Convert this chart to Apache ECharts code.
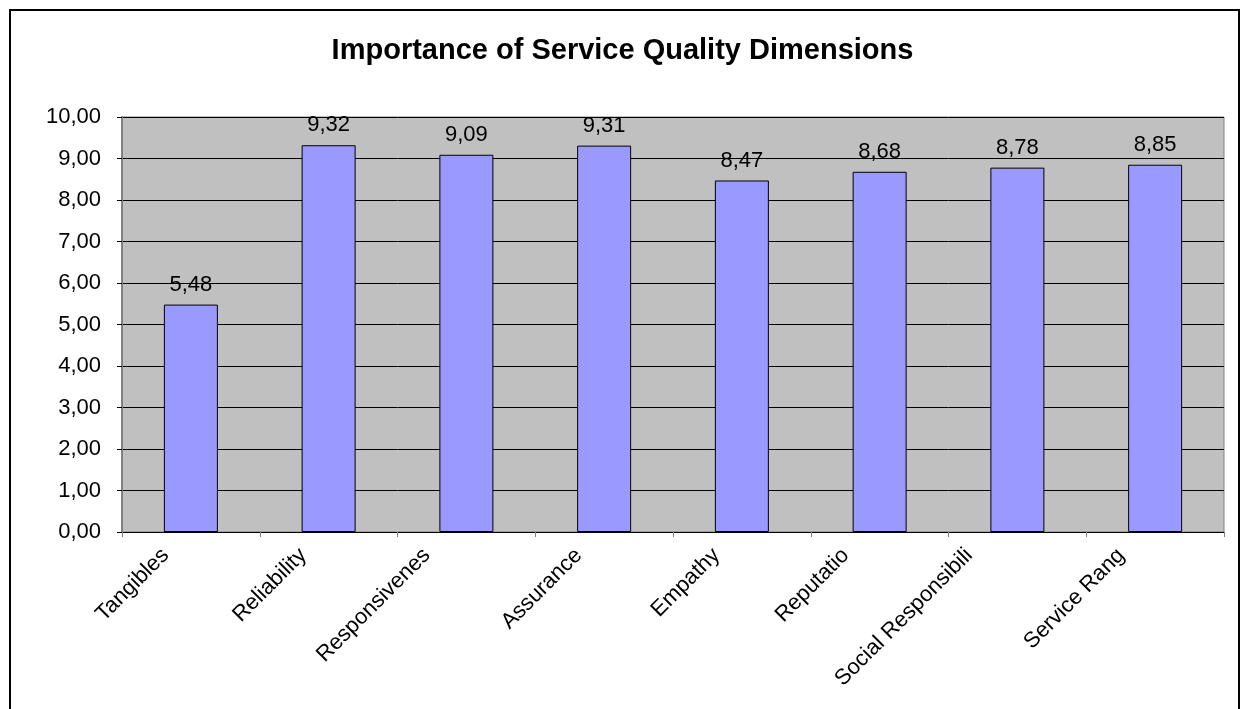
<!DOCTYPE html>
<html>
<head>
<meta charset="utf-8">
<title>Importance of Service Quality Dimensions</title>
<script src="https://cdn.jsdelivr.net/npm/echarts@6/dist/echarts.min.js"></script>
<style>
  html, body { margin: 0; padding: 0; background: #ffffff; }
  #chart { width: 1245px; height: 709px; }
</style>
</head>
<body>
<div id="chart"></div>
<script>
// Category names as printed under the axis (long names are cut off)
const categories = ['Tangibles', 'Reliability', 'Responsivenes', 'Assurance', 'Empathy', 'Reputatio', 'Social Responsibili', 'Service Rang'];
// Mean importance score per dimension
const importance = [5.48, 9.32, 9.09, 9.31, 8.47, 8.68, 8.78, 8.85];
// Value axis range
const yMin = 0;
const yMax = 10;
const yStep = 1;

const FONT = '"Liberation Sans", Arial, sans-serif';
const comma = v => Number(v).toFixed(2).replace('.', ',');

// Sideways slide (px) of each rotated category label; padding acts along the text's own axes
const baseShift = 26;
const extraShift = { 'Responsivenes': 14, 'Reputatio': 8, 'Social Responsibili': 22, 'Service Rang': 8 };
const rich = {};
categories.forEach((c, i) => {
  const s = Math.round((baseShift + (extraShift[c] || 0)) * 0.707);
  rich['c' + i] = {
    fontFamily: FONT,
    fontSize: 22,
    color: '#000000',
    padding: [0, s, 2 * s, 0]
  };
});

const chart = echarts.init(document.getElementById('chart'), null, { renderer: 'canvas' });

chart.setOption({
  backgroundColor: '#ffffff',
  animation: false,
  title: {
    text: 'Importance of Service Quality Dimensions',
    left: 'center',
    top: 31,
    textStyle: { fontFamily: FONT, fontSize: 29, fontWeight: 'bold', color: '#000000' }
  },
  graphic: [{
    type: 'rect',
    z: 100,
    silent: true,
    shape: { x: 10, y: 10, width: 1229, height: 730 },
    style: { fill: null, stroke: '#000000', lineWidth: 2 }
  }],
  grid: {
    left: 122,
    right: 21,
    top: 117,
    bottom: 177,
    show: true,
    backgroundColor: '#C0C0C0',
    borderColor: '#808080',
    borderWidth: 1
  },
  xAxis: {
    type: 'category',
    data: categories,
    boundaryGap: true,
    axisLine: { show: true, lineStyle: { color: '#000000', width: 1 } },
    axisTick: { show: true, alignWithLabel: false, length: 5, lineStyle: { color: '#808080', width: 1 } },
    axisLabel: {
      interval: 0,
      rotate: 45,
      margin: 20,
      fontFamily: FONT,
      fontSize: 22,
      color: '#000000',
      formatter: (v, i) => '{c' + i + '|' + v + '}',
      rich: rich
    },
    splitLine: { show: false }
  },
  yAxis: {
    type: 'value',
    min: yMin,
    max: yMax,
    interval: yStep,
    axisLine: { show: true, lineStyle: { color: '#808080', width: 2 } },
    axisTick: { show: true, length: 5, lineStyle: { color: '#000000', width: 1 } },
    axisLabel: {
      formatter: v => comma(v),
      margin: 21,
      fontFamily: FONT,
      fontSize: 22,
      color: '#000000'
    },
    splitLine: { show: true, lineStyle: { color: '#000000', width: 1 } }
  },
  series: [{
    type: 'bar',
    data: importance,
    barWidth: 54,
    itemStyle: { color: '#9999FF', borderColor: '#000000', borderWidth: 1 },
    label: {
      show: true,
      position: 'top',
      distance: 9,
      formatter: p => comma(p.value),
      fontFamily: FONT,
      fontSize: 22,
      color: '#000000'
    }
  }]
});
</script>
</body>
</html>
